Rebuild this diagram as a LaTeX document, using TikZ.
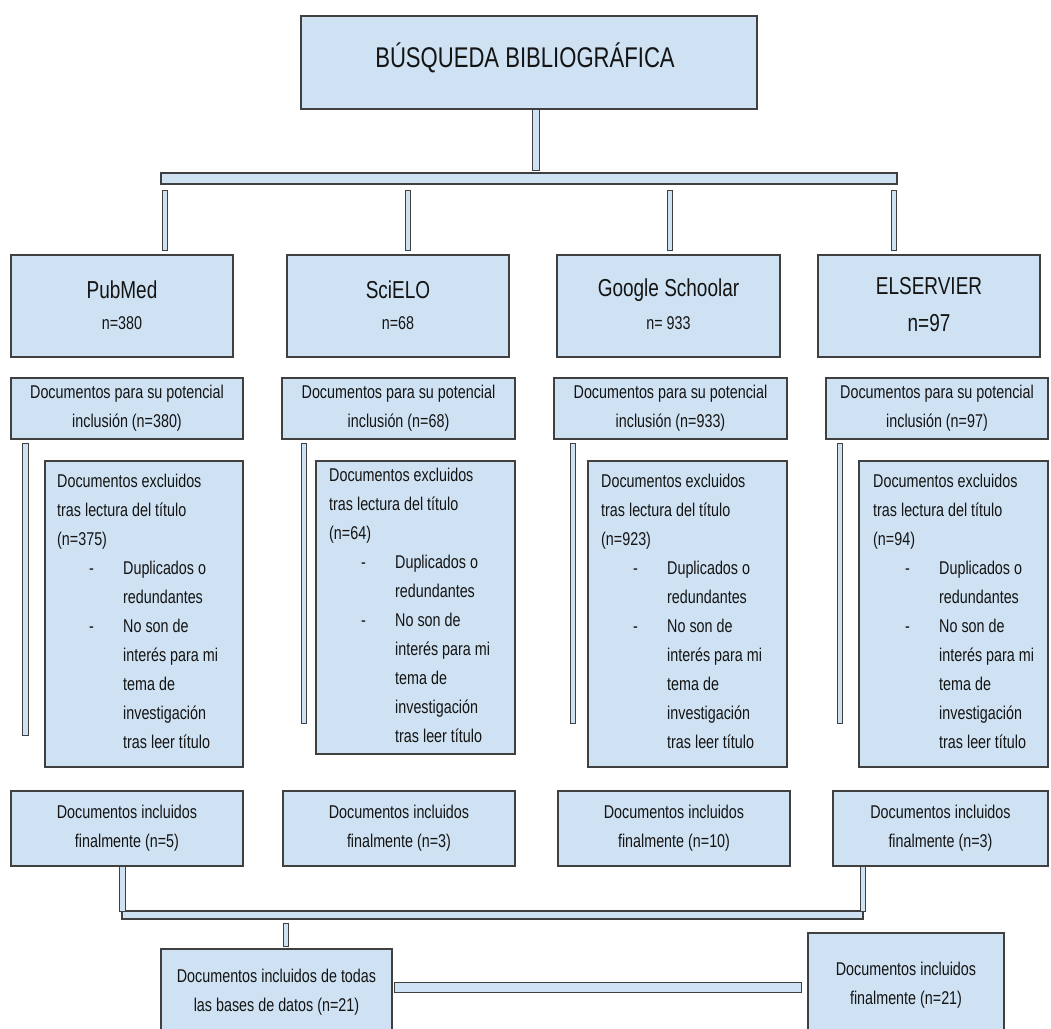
\documentclass[tikz,border=0pt]{standalone}
\usepackage{fontspec}
\setmainfont[FakeStretch=0.775]{Liberation Sans}
\usetikzlibrary{calc}
\definecolor{boxfill}{HTML}{CFE2F3}
\definecolor{boxline}{HTML}{404040}
\definecolor{txt}{HTML}{141414}
\newcommand{\myfs}[1]{\fontsize{#1}{29}\selectfont}
\newcommand{\exitem}[1]{\makebox[66pt][l]{\hspace*{32pt}-}#1}
\newcommand{\excont}[1]{\hspace*{66pt}#1}
\newcommand{\exclt}[1]{Documentos excluidos\\tras lectura del título\\(n=#1)\\\exitem{Duplicados o}\\\excont{redundantes}\\\exitem{No son de}\\\excont{interés para mi}\\\excont{tema de}\\\excont{investigación}\\\excont{tras leer título}}
\begin{document}
\begin{tikzpicture}[x=1pt,y=-1pt,
  box/.style={draw=boxline, fill=boxfill, line width=1.1pt, rectangle, inner sep=0pt, outer sep=0pt, anchor=north west},
  bar/.style={draw=boxline, fill=boxfill, line width=0.9pt},
  lbl/.style={text=txt, inner sep=0pt, font=\myfs{18.5}},
  big/.style={text=txt, inner sep=0pt, font=\myfs{24.5}}]
\useasboundingbox (0,0) rectangle (1051,1028);
\fill[white] (0,0) rectangle (1051,1028);

% main boxes
\node[box, minimum width=456pt, minimum height=93pt] (title) at (301,16) {};
\node[box, minimum width=736pt, minimum height=11pt] (hbar) at (161,173) {};

\node[box, minimum width=222pt, minimum height=102pt] (pm) at (11,255) {};
\node[box, minimum width=222pt, minimum height=102pt] (sc) at (287,255) {};
\node[box, minimum width=223pt, minimum height=102pt] (gs) at (557,255) {};
\node[box, minimum width=222pt, minimum height=102pt] (el) at (818,255) {};

\node[box, minimum width=232pt, minimum height=61pt] (pmP) at (11,378) {};
\node[box, minimum width=233pt, minimum height=61pt] (scP) at (282,378) {};
\node[box, minimum width=233pt, minimum height=61pt] (gsP) at (554,378) {};
\node[box, minimum width=222pt, minimum height=61pt] (elP) at (826,378) {};

\node[box, minimum width=198pt, minimum height=306pt] (pmX) at (45,461) {};
\node[box, minimum width=199pt, minimum height=293pt] (scX) at (316,461) {};
\node[box, minimum width=199pt, minimum height=306pt] (gsX) at (588,461) {};
\node[box, minimum width=189pt, minimum height=306pt] (elX) at (859,461) {};

\node[box, minimum width=232pt, minimum height=75pt] (pmF) at (11,791) {};
\node[box, minimum width=232pt, minimum height=75pt] (scF) at (283,791) {};
\node[box, minimum width=232pt, minimum height=75pt] (gsF) at (558,791) {};
\node[box, minimum width=215pt, minimum height=75pt] (elF) at (833,791) {};

\node[box, minimum width=741pt, minimum height=8pt] (hbarB) at (122,911) {};
\node[box, minimum width=231pt, minimum height=90pt] (all) at (161,949) {};
\node[box, minimum width=196pt, minimum height=107pt] (fin) at (808,933) {};

% connectors (bars)
\coordinate (t1) at ($(title.south west)+(231,0)$);
\draw[bar] (t1) rectangle ([xshift=7pt,yshift=3pt]t1 |- hbar.north);

\coordinate (d1) at ($(pm.north west)+(151,0)$);
\coordinate (d2) at ($(sc.north west)+(118,0)$);
\coordinate (d3) at ($(gs.north west)+(110,0)$);
\coordinate (d4) at ($(el.north west)+(73,0)$);
\foreach \d in {d1,d2,d3,d4}
  \draw[bar] ([yshift=-6pt]\d |- hbar.south) rectangle ([xshift=5pt,yshift=5pt]\d);

\draw[bar] ([xshift=11pt,yshift=-4pt]pmP.south west) rectangle ([xshift=17pt,yshift=-296pt]pmP.south west);
\draw[bar] ([xshift=19pt,yshift=-4pt]scP.south west) rectangle ([xshift=24pt,yshift=-284pt]scP.south west);
\draw[bar] ([xshift=16pt,yshift=-4pt]gsP.south west) rectangle ([xshift=21pt,yshift=-284pt]gsP.south west);
\draw[bar] ([xshift=11pt,yshift=-4pt]elP.south west) rectangle ([xshift=16pt,yshift=-284pt]elP.south west);

\draw[bar] ([xshift=108pt]pmF.south west) rectangle ([xshift=114pt]pmF.south west |- hbarB.north);
\draw[bar] ([xshift=27pt]elF.south west) rectangle ([xshift=32pt]elF.south west |- hbarB.north);
\draw[bar] ([xshift=122pt,yshift=-4pt]all.north west |- hbarB.south) rectangle ([xshift=127pt,yshift=3pt]all.north west);
\draw[bar] ($(all.north east)+(2,33)$) rectangle ($(fin.north west)+(-7,59)$);

% texts
\node[text=txt, inner sep=0pt, font=\myfs{28.5}] (ttlT) at ([xshift=-4pt,yshift=4.5pt]title.center) {BÚSQUEDA BIBLIOGRÁFICA};

\node[big] (pmN) at ([yshift=16pt]pm.center) {PubMed};
\node[lbl] (pmC) at ([yshift=-17pt]pm.center) {n=380};
\node[big] (scN) at ([yshift=16pt]sc.center) {SciELO};
\node[lbl] (scC) at ([yshift=-17pt]sc.center) {n=68};
\node[big] (gsN) at ([yshift=16pt]gs.center) {Google Schoolar};
\node[lbl] (gsC) at ([yshift=-17pt]gs.center) {n= 933};
\node[big] (elN) at ([yshift=20pt]el.center) {ELSERVIER};
\node[big] (elC) at ([yshift=-17pt]el.center) {n=97};

\node[lbl, align=center] (pmPT) at (pmP.center) {Documentos para su potencial\\inclusión (n=380)};
\node[lbl, align=center] (scPT) at (scP.center) {Documentos para su potencial\\inclusión (n=68)};
\node[lbl, align=center] (gsPT) at (gsP.center) {Documentos para su potencial\\inclusión (n=933)};
\node[lbl, align=center] (elPT) at (elP.center) {Documentos para su potencial\\inclusión (n=97)};

\node[lbl, align=left, anchor=north west] (pmXT) at ([xshift=12pt,yshift=-13pt]pmX.north west) {\exclt{375}};
\node[lbl, align=left, anchor=north west] (scXT) at ([xshift=13pt,yshift=-7pt]scX.north west) {\exclt{64}};
\node[lbl, align=left, anchor=north west] (gsXT) at ([xshift=13pt,yshift=-13pt]gsX.north west) {\exclt{923}};
\node[lbl, align=left, anchor=north west] (elXT) at ([xshift=14pt,yshift=-13pt]elX.north west) {\exclt{94}};

\node[lbl, align=center] (pmFT) at (pmF.center) {Documentos incluidos\\finalmente (n=5)};
\node[lbl, align=center] (scFT) at (scF.center) {Documentos incluidos\\finalmente (n=3)};
\node[lbl, align=center] (gsFT) at (gsF.center) {Documentos incluidos\\finalmente (n=10)};
\node[lbl, align=center] (elFT) at (elF.center) {Documentos incluidos\\finalmente (n=3)};

\node[lbl, align=center] (allT) at ([yshift=1.5pt]all.center) {Documentos incluidos de todas\\las bases de datos (n=21)};
\node[lbl, align=center] (finT) at ([yshift=1.5pt]fin.center) {Documentos incluidos\\finalmente (n=21)};
\end{tikzpicture}
\end{document}
